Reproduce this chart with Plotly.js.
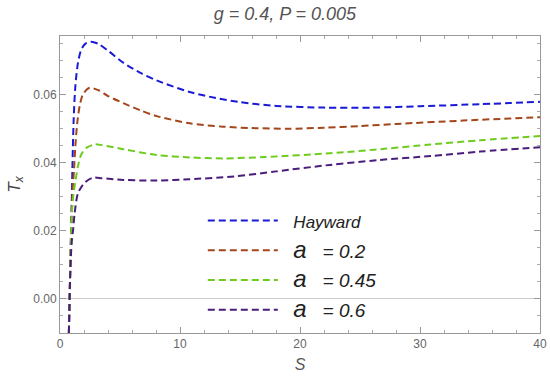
<!DOCTYPE html>
<html>
<head>
<meta charset="utf-8">
<script src="https://cdn.plot.ly/plotly-3.0.1.min.js"></script>
<style>html,body{margin:0;padding:0;background:#fff;}#chart{width:550px;height:379px;}</style>
</head>
<body>
<div id="chart"></div>
<script>
// Data
var hayS = [0.74, 0.8, 0.9, 1.0, 1.05, 1.14, 1.28, 1.5, 1.78, 2.1, 2.55, 3.2, 4.0, 5.3, 6.7, 8.1, 10.8, 13, 15, 18, 22, 26, 30, 35, 40];
var hayT = [-0.01, 0.0, 0.016, 0.032, 0.041, 0.0527, 0.0624, 0.0693, 0.0732, 0.0748, 0.0754, 0.0748, 0.0728, 0.0692, 0.0663, 0.0640, 0.0607, 0.0589, 0.0577, 0.0566, 0.0561, 0.0561, 0.0565, 0.0571, 0.0578];

var a02S = [0.74, 0.8, 0.9, 0.97, 1.05, 1.17, 1.28, 1.44, 1.64, 1.92, 2.47, 3.2, 4.0, 5.28, 6.7, 8.06, 10.8, 13.6, 16, 19, 22, 25, 28, 33.6, 40];
var a02T = [-0.01, 0.0, 0.016, 0.025, 0.032, 0.038, 0.0448, 0.0517, 0.0566, 0.060, 0.0619, 0.0612, 0.0595, 0.0574, 0.0553, 0.0536, 0.0515, 0.0505, 0.0501, 0.0499, 0.0502, 0.0507, 0.0513, 0.0523, 0.0533];

var a045S = [0.74, 0.8, 0.9, 0.97, 1.1, 1.31, 1.5, 1.78, 2.2, 2.89, 3.5, 5.28, 8.06, 10.8, 13.6, 17, 22.5, 27, 30.9, 35, 40];
var a045T = [-0.01, 0.0, 0.016, 0.024, 0.03, 0.0351, 0.039, 0.0424, 0.0443, 0.0453, 0.0451, 0.0439, 0.0422, 0.0415, 0.0412, 0.0416, 0.0427, 0.044, 0.0453, 0.0465, 0.0478];

var a06S = [0.74, 0.8, 0.9, 1.0, 1.1, 1.22, 1.5, 2.06, 2.7, 3.5, 5.28, 8.06, 10.8, 14.5, 18, 22.5, 26.5, 30.9, 35, 40];
var a06T = [-0.01, 0.0, 0.012, 0.0175, 0.0205, 0.0251, 0.031, 0.0341, 0.0355, 0.0354, 0.0349, 0.0347, 0.0351, 0.0359, 0.0374, 0.0393, 0.0407, 0.0419, 0.0432, 0.0445];

var names = ['Hayward', 'a = 0.2', 'a = 0.45', 'a = 0.6'];
var colors = ['#1a1ad6', '#a3461c', '#6dcc1e', '#4a1c7c'];

var xTickVals = [0, 10, 20, 30, 40];
var yTickVals = [0.0, 0.02, 0.04, 0.06];
var yTickText = ['0.00', '0.02', '0.04', '0.06'];

var pad = '\u00a0\u00a0';
function legendName(n) {
  if (n.indexOf('a = ') === 0) {
    return pad + '<i><span style="font-size:24px">a</span>\u00a0\u00a0\u00a0' + n.slice(2) + '</i>';
  }
  return pad + '<i><span style="font-size:17px">' + n + '</span></i>';
}

var xs = [hayS, a02S, a045S, a06S];
var ys = [hayT, a02T, a045T, a06T];
var traces = xs.map(function (x, i) {
  return {
    x: x, y: ys[i], type: 'scatter', mode: 'lines',
    name: legendName(names[i]),
    legendgroup: 'g' + i,
    line: {color: colors[i], width: 2, dash: '7px,4px', shape: 'spline', smoothing: 0.8},
    cliponaxis: true
  };
});

var axisCommon = {
  showgrid: false,
  ticks: 'inside',
  ticklen: 6,
  tickwidth: 1,
  tickcolor: '#999',
  showline: true,
  linecolor: '#999',
  linewidth: 1,
  mirror: 'allticks',
  tickfont: {family: 'Liberation Sans, Arial, sans-serif', size: 12, color: '#666'}
};

var layout = {
  width: 550, height: 379,
  margin: {l: 60, r: 10, t: 36, b: 46},
  paper_bgcolor: '#fff', plot_bgcolor: '#fff',
  title: {
    text: '<i>g = 0.4, P = 0.005</i>',
    font: {family: 'Liberation Sans, Arial, sans-serif', size: 18, color: '#555'},
    x: 0.518, xanchor: 'center', y: 0.963, yanchor: 'middle'
  },
  xaxis: Object.assign({}, axisCommon, {
    range: [0, 40],
    tickvals: xTickVals,
    minor: {dtick: 2, ticks: 'inside', ticklen: 3, tickcolor: '#aaa'},
    zeroline: false,
    title: {text: '<i>S</i>', font: {family: 'Liberation Sans, Arial, sans-serif', size: 16, color: '#555'}, standoff: 8}
  }),
  yaxis: Object.assign({}, axisCommon, {
    range: [-0.01, 0.0771],
    tickvals: yTickVals,
    ticktext: yTickText,
    minor: {dtick: 0.005, tick0: 0, ticks: 'inside', ticklen: 3, tickcolor: '#aaa'},
    zeroline: true, zerolinecolor: '#ccc', zerolinewidth: 1,
    title: {text: '<i>T<sub>x</sub></i>', font: {family: 'Liberation Sans, Arial, sans-serif', size: 17, color: '#444'}, standoff: 8}
  }),
  showlegend: true,
  legend: {
    x: 0.2975, xanchor: 'left', y: 0.442, yanchor: 'top',
    bgcolor: 'rgba(0,0,0,0)',
    itemwidth: 70,
    tracegroupgap: 2,
    font: {family: 'Liberation Sans, Arial, sans-serif', size: 19, color: '#222'}
  }
};

Plotly.newPlot('chart', traces, layout, {displayModeBar: false, staticPlot: true});
</script>
</body>
</html>
